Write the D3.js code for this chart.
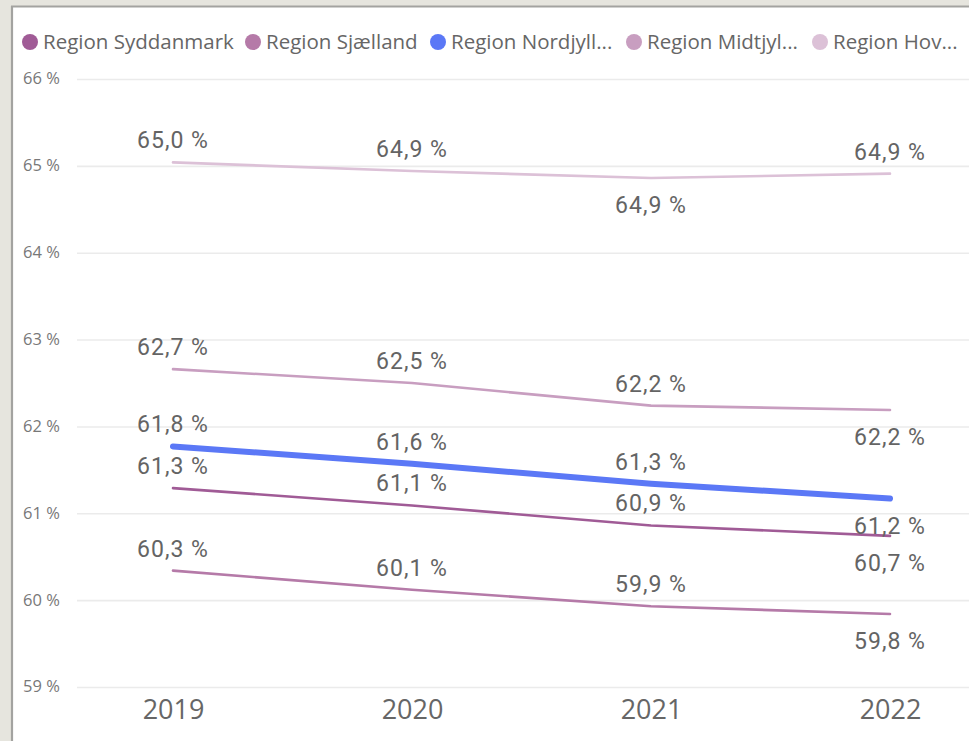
<!DOCTYPE html>
<html>
<head>
<meta charset="utf-8">
<script src="https://cdn.jsdelivr.net/npm/d3@7"></script>
<style>
  html, body { margin: 0; padding: 0; background: #e6e5de; }
  svg { display: block; }
</style>
</head>
<body>
<svg id="chart" width="969" height="741"></svg>
<script>
// Share (%) per region and year
const years = ["2019", "2020", "2021", "2022"];
const seriesNames = ["Region Syddanmark", "Region Sjælland", "Region Nordjylland", "Region Midtjylland", "Region Hovedstaden"];
const legendLabels = ["Region Syddanmark", "Region Sjælland", "Region Nordjyll...", "Region Midtjyl...", "Region Hov..."];
const syddanmark = [61.29, 61.09, 60.86, 60.74];
const sjaelland = [60.34, 60.12, 59.93, 59.84];
const nordjylland = [61.77, 61.57, 61.34, 61.17];
const midtjylland = [62.66, 62.50, 62.24, 62.19];
const hovedstaden = [65.04, 64.94, 64.86, 64.91];
const yTicks = [59, 60, 61, 62, 63, 64, 65, 66];

// Styling: colour, stroke width and which side of the point each label sits on
const colors = ["#a05b96", "#b57aa8", "#5b78f6", "#c89ec0", "#dcc1d7"];
const widths = [2.6, 2.6, 6, 2.6, 2.6];
const labelSides = [
  ["up", "up", "up", "down"],
  ["up", "up", "up", "down"],
  ["up", "up", "up", "down"],
  ["up", "up", "up", "down"],
  ["up", "up", "down", "up"]
];

const seriesValues = [syddanmark, sjaelland, nordjylland, midtjylland, hovedstaden];
const series = seriesNames.map((name, i) => ({
  name, label: legendLabels[i], color: colors[i], width: widths[i],
  values: seriesValues[i].map((v, j) => ({ year: years[j], value: v, side: labelSides[i][j] }))
}));

const svg = d3.select("#chart");

// panel with the grey frame on the top and left edges
svg.append("rect").attr("x", 12).attr("y", 7).attr("width", 969).attr("height", 741)
  .attr("fill", "#ffffff");
svg.append("line").attr("x1", 12).attr("x2", 12).attr("y1", 6).attr("y2", 741)
  .attr("stroke", "#a3a3a0").attr("stroke-width", 2.2);
svg.append("line").attr("x1", 11).attr("x2", 969).attr("y1", 6.5).attr("y2", 6.5)
  .attr("stroke", "#a3a3a0").attr("stroke-width", 2.2);

const x = d3.scalePoint().domain(years).range([173, 890]);
const y = d3.scaleLinear().domain([59, 66]).range([687, 79]);

// horizontal gridlines and y tick labels
const yAxis = d3.axisLeft(y).tickValues(yTicks).tickSize(-(969 - 77))
  .tickFormat(d => d3.format(".0f")(d) + " %");
const gy = svg.append("g").attr("transform", "translate(77,0)").call(yAxis);
gy.select(".domain").remove();
gy.selectAll(".tick line").attr("stroke", "#ebebeb").attr("stroke-width", 1.6);
gy.selectAll(".tick text")
  .attr("x", -54).attr("text-anchor", "start").attr("dy", "0.3em")
  .attr("fill", "#787878").style("font-family", "'Open Sans', sans-serif").style("font-size", "16.5px");

// x axis labels
const xAxis = d3.axisBottom(x).tickSize(0).tickPadding(0);
const gx = svg.append("g").attr("transform", "translate(0,700)").call(xAxis);
gx.select(".domain").remove();
gx.selectAll(".tick text")
  .attr("dy", "0.71em")
  .attr("fill", "#666666").style("font-family", "'Open Sans', sans-serif").style("font-size", "27px");

// lines
const line = d3.line().x(d => x(d.year)).y(d => y(d.value));
svg.append("g").selectAll("path").data(series).join("path")
  .attr("d", d => line(d.values))
  .attr("fill", "none")
  .attr("stroke", d => d.color)
  .attr("stroke-width", d => d.width)
  .attr("stroke-linecap", "round")
  .attr("stroke-linejoin", "round");

// data labels
const fmt = v => d3.format(".1f")(v).replace(".", ",") + " %";
const labels = svg.append("g");
series.forEach(s => {
  labels.selectAll(null).data(s.values).join("text")
    .attr("x", d => x(d.year))
    .attr("y", d => y(d.value) + (d.side === "up" ? -14 : 35))
    .attr("text-anchor", "middle")
    .attr("fill", "#646464")
    .style("font-family", "Roboto, sans-serif")
    .style("font-size", "23px")
    .style("letter-spacing", "1px")
    .text(d => fmt(d.value));
});

// legend
const legendX = [30, 253, 438, 634, 820];
const legend = svg.append("g").selectAll("g").data(series).join("g")
  .attr("transform", (d, i) => `translate(${legendX[i]},42)`);
legend.append("circle").attr("r", 8).attr("fill", d => d.color);
legend.append("text").attr("x", 13).attr("dy", "0.35em")
  .attr("fill", "#666666")
  .style("font-family", "'Open Sans', sans-serif").style("font-size", "20.5px")
  .text(d => d.label);
</script>
</body>
</html>
